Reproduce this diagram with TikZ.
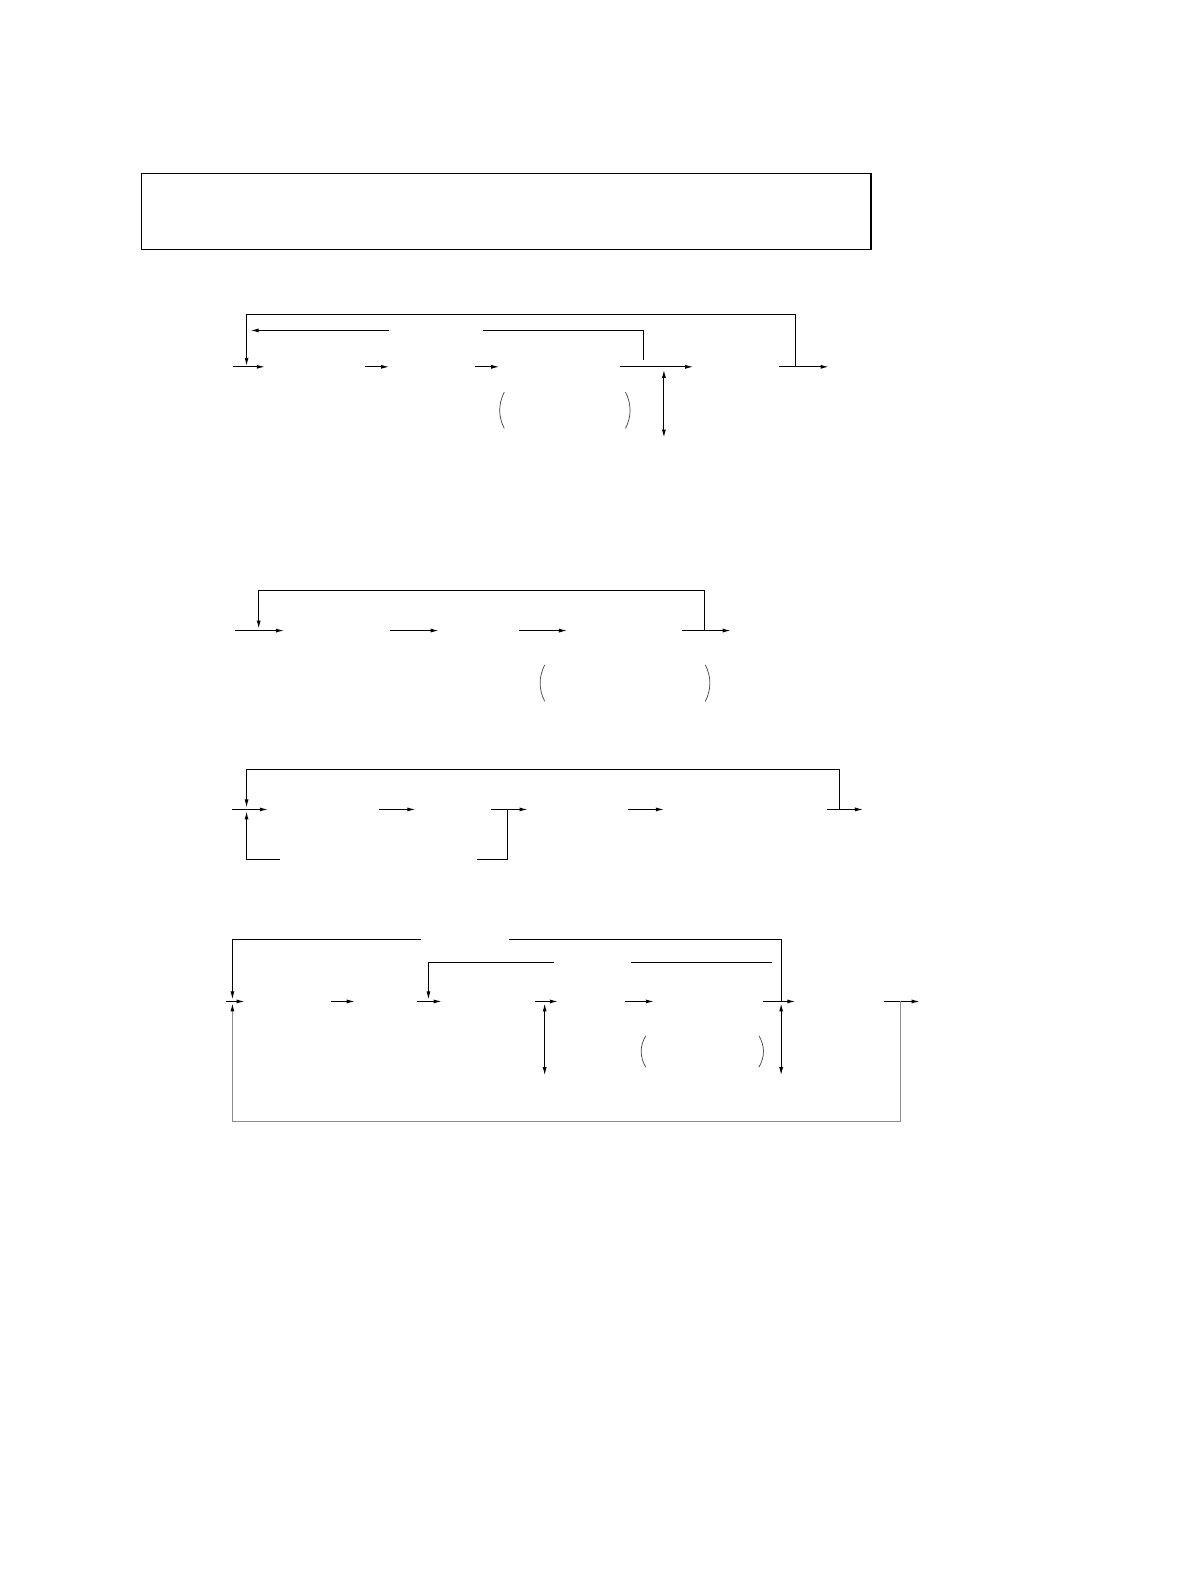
\documentclass[tikz,border=0pt]{standalone}
\usetikzlibrary{arrows.meta}
\begin{document}
\begin{tikzpicture}[x=1.0105pt,y=-1.0105pt,
  ln/.style={line width=1pt, line cap=butt, line join=miter},
  arr/.style={ln, -{Latex[length=8pt,width=4pt]}},
  darr/.style={ln, {Latex[length=8pt,width=4pt]}-{Latex[length=8pt,width=4pt]}},
  paren/.style={line width=0.7pt, black!75},
  grayln/.style={line width=1pt, black!45, -{Latex[length=8pt,width=4pt,black]}},
  framebox/.style={draw, line width=1.3pt, minimum width=729.6pt, minimum height=75.8pt, inner sep=0pt}]
\useasboundingbox (0,0) rectangle (1177.6,1567.5);

% title frame
\node[framebox] (frame) at (501,209.5) {};

% ---------- diagram 1 ----------
\coordinate (p1a) at (231,363); \coordinate (p1b) at (262,363);
\coordinate (p1c) at (361,363); \coordinate (p1d) at (385,363);
\coordinate (p1e) at (470,363); \coordinate (p1f) at (494,363);
\coordinate (p1g) at (614,363); \coordinate (p1h) at (686,363);
\coordinate (p1i) at (771,363); \coordinate (p1j) at (820,363);
\draw[arr] (p1a) -- (p1b);
\draw[arr] (p1c) -- (p1d);
\draw[arr] (p1e) -- (p1f);
\draw[arr] (p1g) -- (p1h);
\draw[arr] (p1i) -- (p1j);
\coordinate (o1s) at (787,363); \coordinate (o1c) at (244,311); \coordinate (o1t) at (244,362);
\draw[arr] (o1s) |- (o1c) -- (o1t);
\coordinate (i1s) at (637,356); \coordinate (i1c) at (478,327);
\coordinate (i1d) at (385,327); \coordinate (i1t) at (248,327);
\draw[ln] (i1s) |- (i1c);
\draw[arr] (i1d) -- (i1t);
\coordinate (v1a) at (657,366); \coordinate (v1b) at (657,433);
\draw[darr] (v1a) -- (v1b);
\draw[paren] (499,388) .. controls (493,400) and (493,412) .. (499,424);
\draw[paren] (619,388) .. controls (625,400) and (625,412) .. (619,424);

% ---------- diagram 2 ----------
\coordinate (p2a) at (233,624); \coordinate (p2b) at (281,624);
\coordinate (p2c) at (386,624); \coordinate (p2d) at (434,624);
\coordinate (p2e) at (514,624); \coordinate (p2f) at (561,624);
\coordinate (p2g) at (675,624); \coordinate (p2h) at (723,624);
\draw[arr] (p2a) -- (p2b);
\draw[arr] (p2c) -- (p2d);
\draw[arr] (p2e) -- (p2f);
\draw[arr] (p2g) -- (p2h);
\coordinate (o2s) at (697,624); \coordinate (o2c) at (256,584); \coordinate (o2t) at (256,622);
\draw[arr] (o2s) |- (o2c) -- (o2t);
\draw[paren] (539,658) .. controls (533,670) and (533,682) .. (539,694);
\draw[paren] (698,658) .. controls (704,670) and (704,682) .. (698,694);

% ---------- diagram 3 ----------
\coordinate (p3a) at (230,801); \coordinate (p3b) at (265,801);
\coordinate (p3c) at (375,801); \coordinate (p3d) at (411,801);
\coordinate (p3e) at (486,801); \coordinate (p3f) at (522,801);
\coordinate (p3g) at (621,801); \coordinate (p3h) at (657,801);
\coordinate (p3i) at (818,801); \coordinate (p3j) at (854,801);
\draw[arr] (p3a) -- (p3b);
\draw[arr] (p3c) -- (p3d);
\draw[arr] (p3e) -- (p3f);
\draw[arr] (p3g) -- (p3h);
\draw[arr] (p3i) -- (p3j);
\coordinate (o3s) at (831,801); \coordinate (o3c) at (244,761); \coordinate (o3t) at (244,799);
\draw[arr] (o3s) |- (o3c) -- (o3t);
\coordinate (b3s) at (277,851); \coordinate (b3t) at (244,803);
\draw[arr] (b3s) -| (b3t);
\coordinate (r3s) at (472,851); \coordinate (r3t) at (502,801);
\draw[ln] (r3s) -| (r3t);

% ---------- diagram 4 ----------
\coordinate (p4a) at (224,991); \coordinate (p4b) at (242,991);
\coordinate (p4c) at (328,991); \coordinate (p4d) at (351,991);
\coordinate (p4e) at (413,991); \coordinate (p4f) at (437,991);
\coordinate (p4g) at (529,991); \coordinate (p4h) at (552,991);
\coordinate (p4i) at (618,991); \coordinate (p4j) at (647,991);
\coordinate (p4k) at (755,991); \coordinate (p4l) at (787,991);
\coordinate (p4m) at (875,991); \coordinate (p4n) at (910,991);
\draw[arr] (p4a) -- (p4b);
\draw[arr] (p4c) -- (p4d);
\draw[arr] (p4e) -- (p4f);
\draw[arr] (p4g) -- (p4h);
\draw[arr] (p4i) -- (p4j);
\draw[arr] (p4k) -- (p4l);
\draw[arr] (p4m) -- (p4n);
\coordinate (o4s) at (773,991); \coordinate (o4c) at (504,930);
\coordinate (o4d) at (417,930); \coordinate (o4t) at (230,989);
\draw[ln] (o4s) |- (o4c);
\draw[arr] (o4d) -| (o4t);
\coordinate (i4d) at (548,952); \coordinate (i4t) at (424,989);
\coordinate (i4s) at (624,952); \coordinate (i4e) at (764,952);
\draw[arr] (i4d) -| (i4t);
\draw[ln] (i4s) -- (i4e);
\coordinate (v4a) at (539,993); \coordinate (v4b) at (539,1064);
\coordinate (v4c) at (773,993); \coordinate (v4d) at (773,1064);
\draw[darr] (v4a) -- (v4b);
\draw[darr] (v4c) -- (v4d);
\coordinate (g4s) at (891,991); \coordinate (g4c) at (891,1110);
\coordinate (g4d) at (230,1110); \coordinate (g4t) at (230,993);
\draw[grayln] (g4s) -- (g4c) -- (g4d) -- (g4t);
\draw[paren] (639,1025) .. controls (633,1035) and (633,1046) .. (639,1056);
\draw[paren] (751,1025) .. controls (757,1035) and (757,1046) .. (751,1056);

\end{tikzpicture}
\end{document}
